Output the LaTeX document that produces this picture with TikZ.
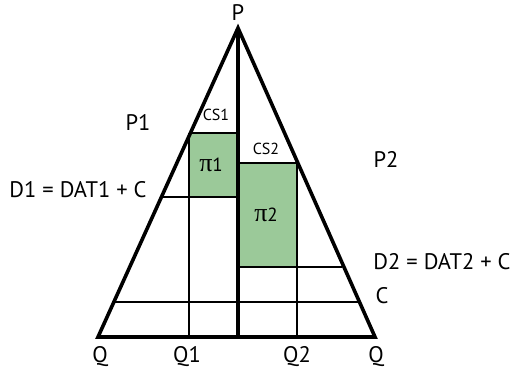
\documentclass[tikz,border=0pt]{standalone}
\usepackage{fontspec}
\setmainfont{PT Sans}
\newfontfamily\pifont{Liberation Serif}
\definecolor{boxgreen}{RGB}{155,201,153}
\begin{document}
\begin{tikzpicture}[x=1pt,y=-1pt,
  edge/.style={line width=3.6pt,line join=miter,line cap=butt},
  grid/.style={line width=2.8pt},
  axis/.style={line width=4pt},
  lab/.style={inner sep=0pt,font=\fontsize{22.5}{26}\selectfont},
  cslab/.style={inner sep=0pt,font=\fontsize{16}{18}\selectfont},
  pilab/.style={inner sep=0pt,font=\fontsize{19}{22}\selectfont}]
\useasboundingbox (0,0) rectangle (513,368);
% key points
\coordinate (P) at (238,28);
\coordinate (QL) at (98,337);
\coordinate (QR) at (375,337);
\coordinate (B) at (238,337);
% green boxes
\fill[boxgreen] (189,133) rectangle (238,197);
\fill[boxgreen] (238,163) rectangle (297,267);
% interior lines
\coordinate (a1) at (190.4,133); \coordinate (a2) at (238,133);
\coordinate (d1l) at (161.4,197); \coordinate (d1r) at (238,197);
\coordinate (b1) at (238,163); \coordinate (b2) at (297.9,163);
\coordinate (d2l) at (238,267); \coordinate (d2r) at (342,267);
\coordinate (cl) at (113.9,302); \coordinate (cr) at (359.5,302);
\coordinate (q1t) at (189,133); \coordinate (q1b) at (189,337);
\coordinate (q2t) at (297,163); \coordinate (q2b) at (297,337);
\draw[grid] (a1) -- (a2);
\draw[grid] (d1l) -- (d1r);
\draw[grid] (b1) -- (b2);
\draw[grid] (d2l) -- (d2r);
\draw[grid] (cl) -- (cr);
\draw[grid] (q1t) -- (q1b);
\draw[grid] (q2t) -- (q2b);
\draw[axis] (P) -- (B);
\draw[edge] (P) -- (QL) -- (QR) -- cycle;
% labels
\node[lab] (lP) at (238,13) {P};
\node[lab] (lP1) at (138,122) {P1};
\node[lab] (lP2) at (386,159) {P2};
\node[cslab] (lcs1) at (216,115) {CS1};
\node[cslab] (lcs2) at (266,149) {CS2};
\node[pilab] (lpi1) at (211,165) {{\pifont\fontsize{26}{28}\selectfont π}1};
\node[pilab] (lpi2) at (266,215) {{\pifont\fontsize{26}{28}\selectfont π}2};
\node[lab] (lD1) at (78,190) {D1 = DAT1 + C};
\node[lab] (lD2) at (442,262) {D2 = DAT2 + C};
\node[lab] (lC) at (382,296) {C};
\node[lab] (lQa) at (100,357) {Q};
\node[lab] (lQ1) at (187,357) {Q1};
\node[lab] (lQ2) at (297,357) {Q2};
\node[lab] (lQb) at (376,357) {Q};
\end{tikzpicture}
\end{document}
